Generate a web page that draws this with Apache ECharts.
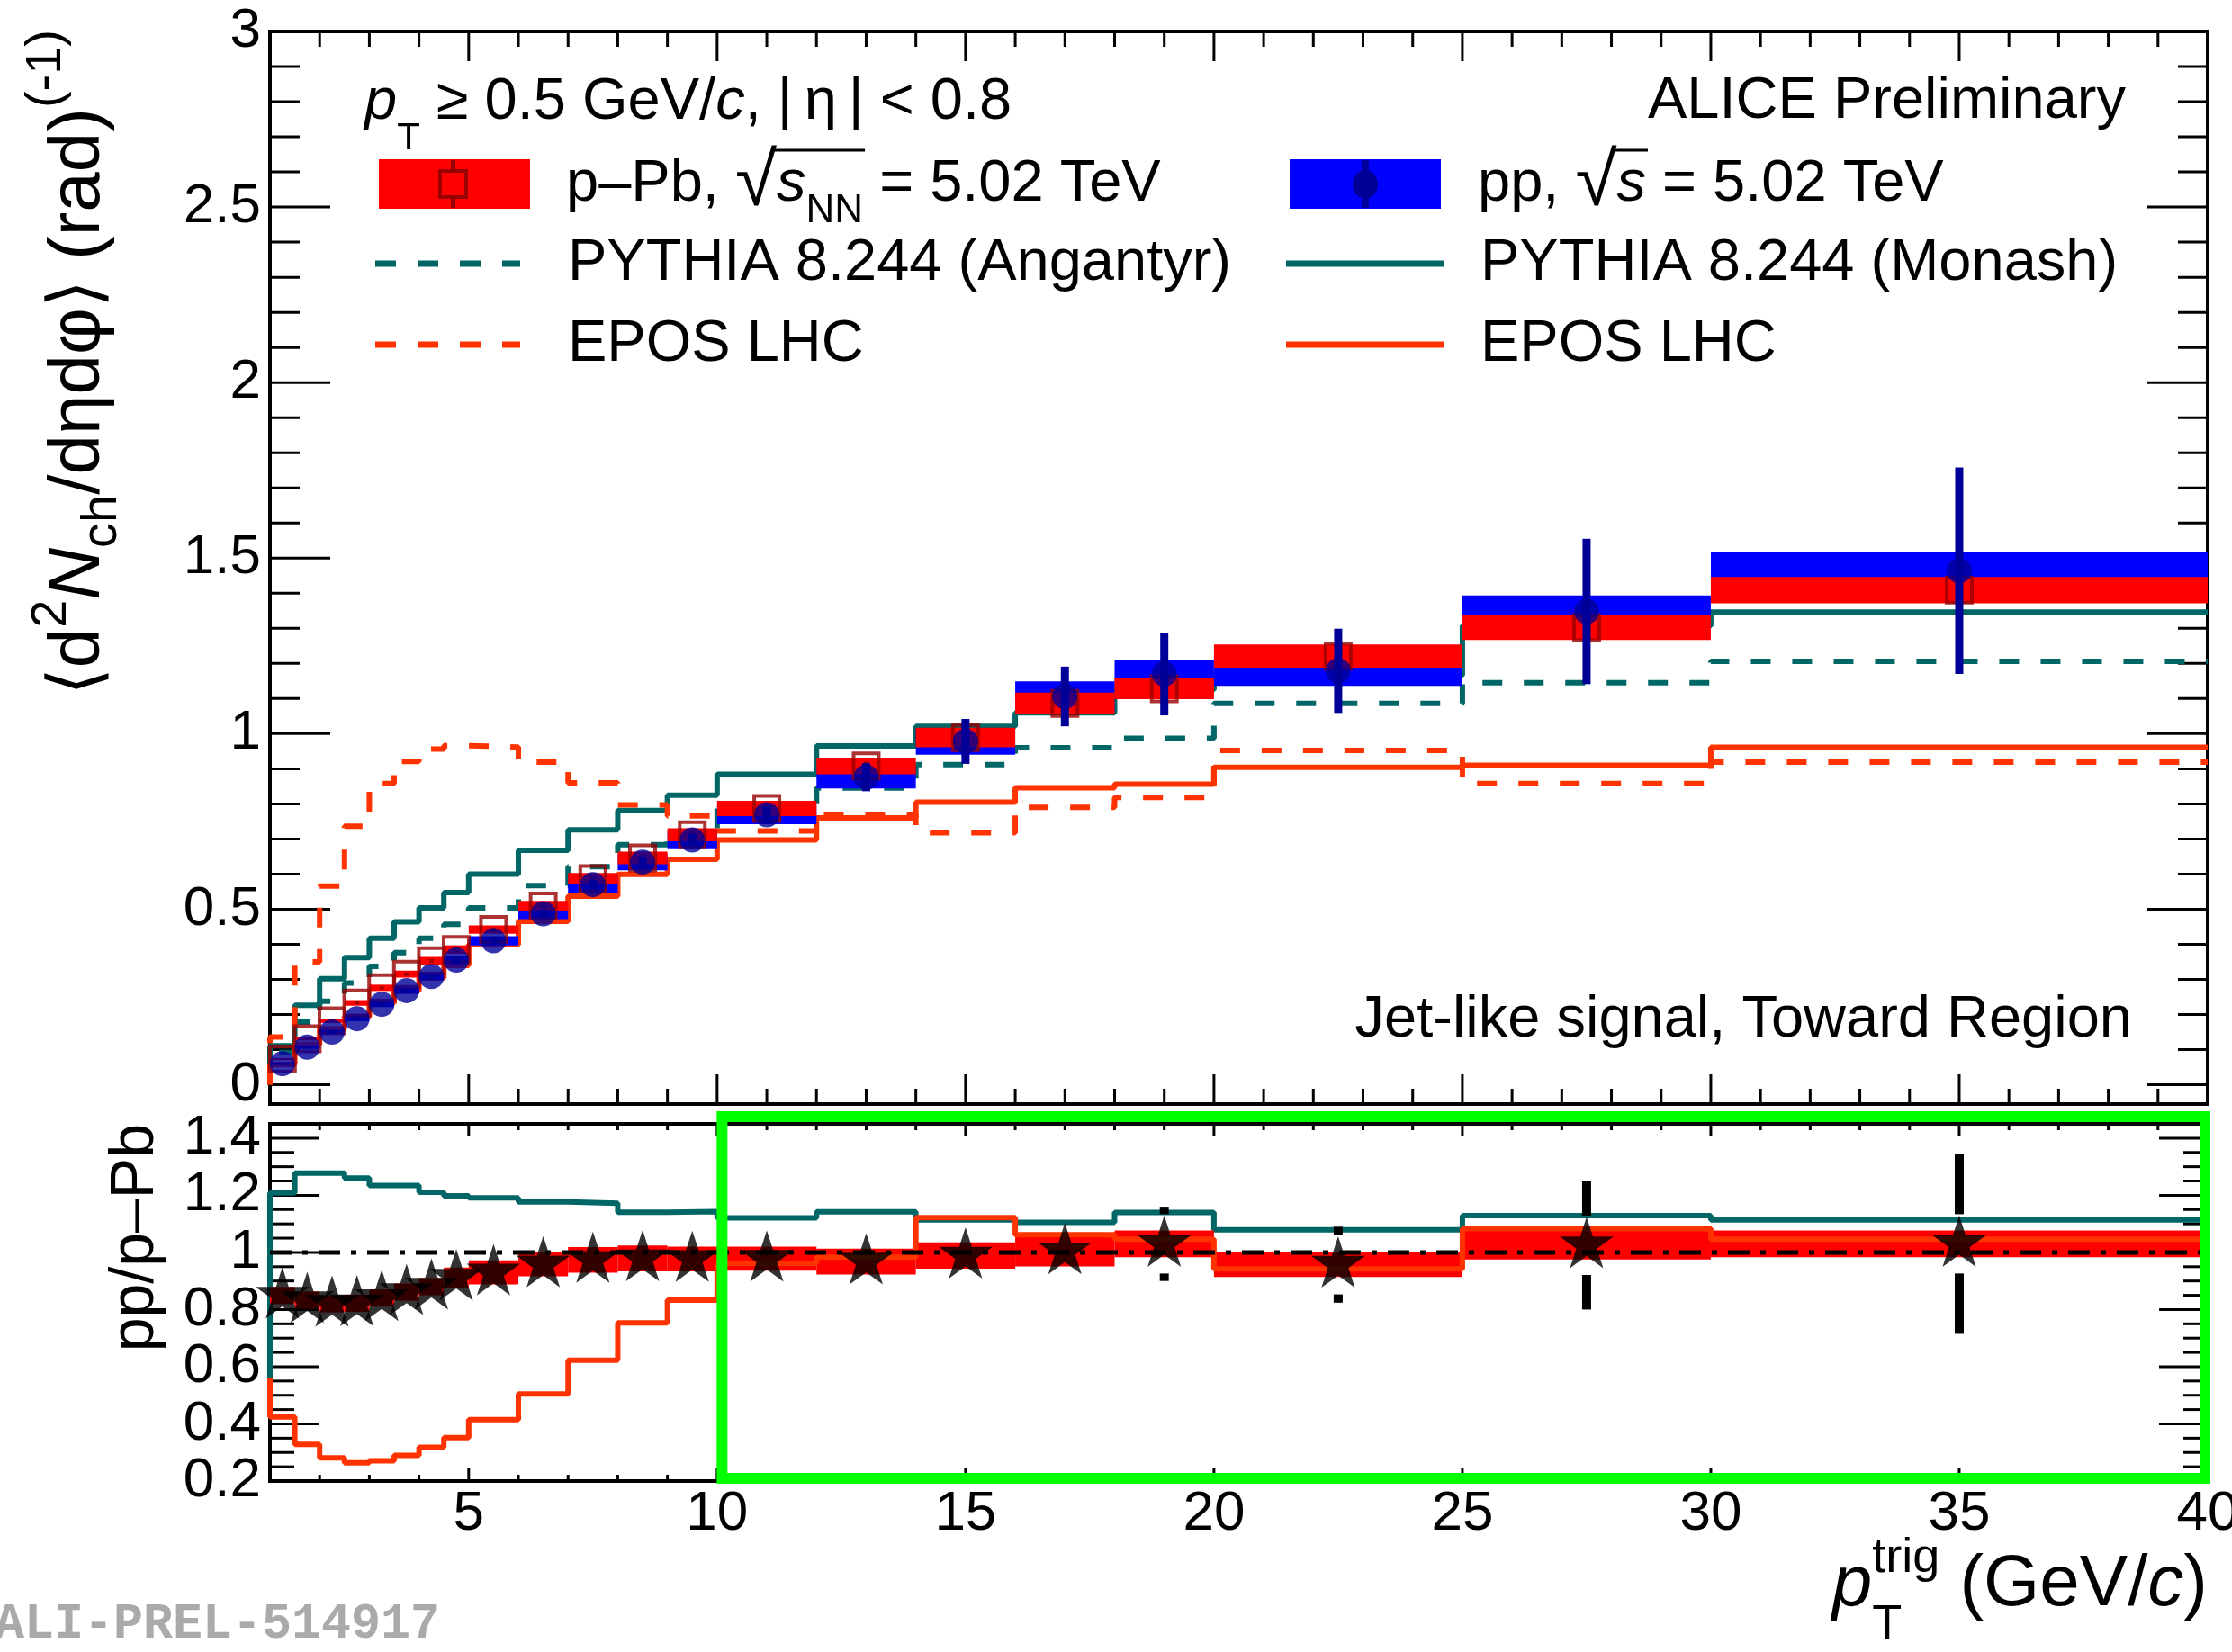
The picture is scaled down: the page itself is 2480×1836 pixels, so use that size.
<!DOCTYPE html>
<html>
<head>
<meta charset="utf-8">
<script src="https://cdn.jsdelivr.net/npm/echarts@6/dist/echarts.min.js"></script>
<style>
  html, body { margin: 0; padding: 0; background: #fff; }
  #chart { width: 2480px; height: 1836px; }
</style>
</head>
<body>
<div id="chart"></div>
<script>
// pT^trig bins (GeV/c)
const binEdges = [1, 1.5, 2, 2.5, 3, 3.5, 4, 4.5, 5, 6, 7, 8, 9, 10, 12, 14, 16, 18, 20, 25, 30, 40];

// pp, sqrt(s) = 5.02 TeV
const ppValue = [0.060, 0.107, 0.150, 0.188, 0.229, 0.268, 0.308, 0.355, 0.410, 0.487, 0.570, 0.634, 0.697, 0.769, 0.876, 0.978, 1.106, 1.170, 1.179, 1.348, 1.464];
const ppStat  = [0.003, 0.004, 0.005, 0.005, 0.006, 0.007, 0.008, 0.009, 0.010, 0.012, 0.014, 0.016, 0.018, 0.025, 0.040, 0.064, 0.085, 0.118, 0.120, 0.207, 0.294];
const ppSyst  = [0.003, 0.005, 0.006, 0.007, 0.008, 0.009, 0.010, 0.012, 0.013, 0.015, 0.023, 0.023, 0.026, 0.027, 0.032, 0.038, 0.043, 0.039, 0.043, 0.046, 0.052];

// p-Pb, sqrt(sNN) = 5.02 TeV
const pPbValue = [0.073, 0.131, 0.182, 0.233, 0.276, 0.315, 0.353, 0.385, 0.442, 0.509, 0.587, 0.646, 0.712, 0.787, 0.908, 0.989, 1.086, 1.128, 1.221, 1.302, 1.409];
const pPbStat  = [0.002, 0.003, 0.003, 0.004, 0.004, 0.005, 0.005, 0.006, 0.006, 0.007, 0.008, 0.009, 0.010, 0.010, 0.012, 0.015, 0.020, 0.025, 0.025, 0.035, 0.045];
const pPbSyst  = [0.003, 0.005, 0.006, 0.008, 0.009, 0.010, 0.011, 0.012, 0.012, 0.0145, 0.016, 0.018, 0.0185, 0.022, 0.024, 0.028, 0.031, 0.030, 0.033, 0.035, 0.0375];

// models
const monashPp    = [0.111, 0.226, 0.302, 0.362, 0.417, 0.464, 0.504, 0.547, 0.600, 0.668, 0.726, 0.781, 0.825, 0.884, 0.965, 1.021, 1.059, 1.125, 1.166, 1.307, 1.346];
const angantyrPPb = [0.092, 0.178, 0.238, 0.290, 0.337, 0.376, 0.417, 0.457, 0.504, 0.567, 0.621, 0.684, 0.722, 0.789, 0.845, 0.912, 0.960, 0.987, 1.086, 1.145, 1.206];
const eposPp      = [0.058, 0.115, 0.159, 0.194, 0.233, 0.267, 0.304, 0.340, 0.399, 0.465, 0.537, 0.599, 0.642, 0.697, 0.760, 0.805, 0.846, 0.856, 0.904, 0.910, 0.961];
const eposPPb     = [0.136, 0.350, 0.566, 0.736, 0.858, 0.921, 0.956, 0.966, 0.962, 0.919, 0.860, 0.797, 0.766, 0.723, 0.770, 0.718, 0.790, 0.818, 0.952, 0.858, 0.919];

// ratio pp / p-Pb
const ratioValue = [0.849, 0.833, 0.820, 0.822, 0.840, 0.861, 0.880, 0.912, 0.930, 0.958, 0.974, 0.979, 0.977, 0.978, 0.968, 0.989, 1.004, 1.030, 0.957, 1.025, 1.030];
const ratioStat  = [0.010, 0.010, 0.010, 0.010, 0.010, 0.012, 0.012, 0.014, 0.014, 0.016, 0.018, 0.020, 0.022, 0.025, 0.035, 0.050, 0.095, 0.130, 0.133, 0.225, 0.315];
const ratioSyst  = [0.030, 0.030, 0.030, 0.030, 0.030, 0.030, 0.030, 0.035, 0.042, 0.042, 0.045, 0.045, 0.043, 0.042, 0.045, 0.046, 0.053, 0.047, 0.043, 0.050, 0.047];
const monashRatio = [1.208, 1.278, 1.278, 1.260, 1.234, 1.234, 1.211, 1.198, 1.191, 1.177, 1.172, 1.141, 1.143, 1.121, 1.142, 1.114, 1.105, 1.140, 1.079, 1.129, 1.114];
const eposRatio   = [0.424, 0.328, 0.281, 0.264, 0.271, 0.290, 0.318, 0.352, 0.415, 0.505, 0.623, 0.753, 0.833, 0.962, 0.983, 1.122, 1.062, 1.046, 0.942, 1.083, 1.046];
const ratioLineStart = 0.56;
const ratioReference = 1;

// axis labels
const xLabels = [5, 10, 15, 20, 25, 30, 35, 40];
const topYLabels = [0, 0.5, 1, 1.5, 2, 2.5, 3];
const ratioYLabels = [0.2, 0.4, 0.6, 0.8, 1, 1.2, 1.4];

const TEAL = '#006666', ORANGE = '#ff3300', RED = '#ff0000', BLUE = '#0000ff';
const NAVY = '#000099', DARKRED = '#990000', GREEN = '#00ff00';
const FONT = '"Liberation Sans", Arial, Helvetica, sans-serif';
const DASH = [22, 24];

const centers = binEdges.slice(0, -1).map((e, i) => (e + binEdges[i + 1]) / 2);

// minor ticks
const xMinor = [];
for (let v = 2; v < 40; v++) if (v % 5) xMinor.push(v);
const topYMinor = [];
for (let k = 1; k < 30; k++) if (k % 5) topYMinor.push(k / 10);
const ratioYMinor = [];
for (let k = 5; k < 29; k++) if (k % 4) ratioYMinor.push(k / 20);

function stepPoints(values, start) {
  const pts = [[binEdges[0], start]];
  values.forEach((v, i) => { pts.push([binEdges[i], v], [binEdges[i + 1], v]); });
  return pts;
}

function stepLine(gi, values, start, color, type, z) {
  return {
    type: 'line', xAxisIndex: gi, yAxisIndex: gi, z: z,
    data: stepPoints(values, start), showSymbol: false, silent: true,
    lineStyle: { color: color, width: 6, type: type, cap: 'butt' }
  };
}

function boxes(gi, values, syst, color, z) {
  return {
    type: 'custom', xAxisIndex: gi, yAxisIndex: gi, z: z, silent: true,
    data: values.map((v, i) => [binEdges[i], binEdges[i + 1], v - syst[i], v + syst[i]]),
    encode: { x: [0, 1], y: [2, 3] },
    renderItem: (params, api) => {
      const a = api.coord([api.value(0), api.value(3)]);
      const b = api.coord([api.value(1), api.value(2)]);
      return { type: 'rect', shape: { x: a[0], y: a[1], width: b[0] - a[0], height: b[1] - a[1] }, style: { fill: color } };
    }
  };
}

function errorBars(gi, values, err, color, width, gap, z) {
  return {
    type: 'custom', xAxisIndex: gi, yAxisIndex: gi, z: z, silent: true,
    data: values.map((v, i) => [centers[i], v - err[i], v + err[i], v]),
    encode: { x: 0, y: [1, 2] },
    renderItem: (params, api) => {
      const lo = api.coord([api.value(0), api.value(1)]);
      const hi = api.coord([api.value(0), api.value(2)]);
      const c = api.coord([api.value(0), api.value(3)]);
      const st = { stroke: color, lineWidth: width };
      const ch = [];
      if (hi[1] < c[1] - gap) ch.push({ type: 'line', shape: { x1: c[0], y1: c[1] - gap, x2: c[0], y2: hi[1] }, style: st });
      if (lo[1] > c[1] + gap) ch.push({ type: 'line', shape: { x1: c[0], y1: c[1] + gap, x2: c[0], y2: lo[1] }, style: st });
      return { type: 'group', children: ch };
    }
  };
}

function frameTicks(gi, yMajor, yMinor, len) {
  return {
    type: 'custom', xAxisIndex: gi, yAxisIndex: gi, z: 1, silent: true,
    data: [[20, 1]],
    renderItem: (params, api) => {
      const cs = params.coordSys;
      const L = cs.x, R = cs.x + cs.width, T = cs.y, B = cs.y + cs.height;
      const st = { stroke: '#000', lineWidth: 3 };
      const ch = [];
      const xt = (v, l) => {
        const px = api.coord([v, 1])[0];
        ch.push({ type: 'line', shape: { x1: px, y1: B, x2: px, y2: B - l }, style: st });
        ch.push({ type: 'line', shape: { x1: px, y1: T, x2: px, y2: T + l }, style: st });
      };
      const yt = (v, l) => {
        const py = api.coord([1, v])[1];
        ch.push({ type: 'line', shape: { x1: L, y1: py, x2: L + l, y2: py }, style: st });
        ch.push({ type: 'line', shape: { x1: R, y1: py, x2: R - l, y2: py }, style: st });
      };
      xLabels.forEach(v => xt(v, len.xMaj));
      xMinor.forEach(v => xt(v, len.xMin));
      yMajor.forEach(v => yt(v, len.yMaj));
      yMinor.forEach(v => yt(v, len.yMin));
      return { type: 'group', children: ch };
    }
  };
}

function starPath() {
  const pts = [];
  for (let k = 0; k < 10; k++) {
    const r = k % 2 ? 38.2 : 100;
    const a = (-90 + 36 * k) * Math.PI / 180;
    pts.push((r * Math.cos(a)).toFixed(2) + ' ' + (r * Math.sin(a)).toFixed(2));
  }
  return 'path://M' + pts.join(' L') + ' Z';
}

const axisLabelStyle = { fontSize: 62, fontFamily: FONT, color: '#000' };

const chart = echarts.init(document.getElementById('chart'));
chart.setOption({
  animation: false,
  backgroundColor: '#fff',
  grid: [
    { left: 300, right: 27, top: 35, height: 1192, show: true, borderColor: '#000', borderWidth: 4, backgroundColor: 'transparent', containLabel: false, outerBoundsMode: 'none' },
    { left: 300, right: 27, top: 1249, height: 397, show: true, borderColor: '#000', borderWidth: 4, backgroundColor: 'transparent', containLabel: false, outerBoundsMode: 'none' }
  ],
  xAxis: [
    { gridIndex: 0, type: 'value', min: 1, max: 40, axisLine: { show: false }, axisTick: { show: false }, axisLabel: { show: false }, splitLine: { show: false } },
    { gridIndex: 1, type: 'value', min: 1, max: 40, axisLine: { show: false }, axisTick: { show: false }, splitLine: { show: false },
      axisLabel: Object.assign({ customValues: xLabels, margin: 6 }, axisLabelStyle) }
  ],
  yAxis: [
    { gridIndex: 0, type: 'value', min: -0.055, max: 3, axisLine: { show: false }, axisTick: { show: false }, splitLine: { show: false },
      axisLabel: Object.assign({ customValues: topYLabels, margin: 10 }, axisLabelStyle) },
    { gridIndex: 1, type: 'value', min: 0.2, max: 1.45, axisLine: { show: false }, axisTick: { show: false }, splitLine: { show: false },
      axisLabel: Object.assign({ customValues: ratioYLabels, margin: 10 }, axisLabelStyle) }
  ],
  series: [
    frameTicks(0, topYLabels, topYMinor, { xMaj: 33, xMin: 17, yMaj: 67, yMin: 33 }),
    stepLine(0, monashPp, 0, TEAL, 'solid', 2),
    stepLine(0, angantyrPPb, 0, TEAL, DASH, 2),
    stepLine(0, eposPp, 0, ORANGE, 'solid', 2),
    stepLine(0, eposPPb, 0, ORANGE, DASH, 2),
    boxes(0, ppValue, ppSyst, BLUE, 3),
    boxes(0, pPbValue, pPbSyst, RED, 3),
    errorBars(0, pPbValue, pPbStat, DARKRED, 5, 0, 4),
    { type: 'scatter', xAxisIndex: 0, yAxisIndex: 0, z: 4, silent: true, symbol: 'rect', symbolSize: 28,
      data: pPbValue.map((v, i) => [centers[i], v]),
      itemStyle: { color: 'rgba(0,0,0,0)', borderColor: DARKRED, borderWidth: 4 } },
    errorBars(0, ppValue, ppStat, NAVY, 9, 0, 5),
    { type: 'scatter', xAxisIndex: 0, yAxisIndex: 0, z: 5, silent: true, symbol: 'circle', symbolSize: 28,
      data: ppValue.map((v, i) => [centers[i], v]), itemStyle: { color: NAVY } },

    frameTicks(1, ratioYLabels, ratioYMinor, { xMaj: 14, xMin: 7, yMaj: 54, yMin: 27 }),
    stepLine(1, monashRatio, ratioLineStart, TEAL, 'solid', 2),
    boxes(1, ratioValue, ratioSyst, RED, 3),
    stepLine(1, eposRatio, ratioLineStart, ORANGE, 'solid', 4),
    { type: 'line', xAxisIndex: 1, yAxisIndex: 1, z: 5, showSymbol: false, silent: true,
      data: [[binEdges[0], ratioReference], [binEdges[binEdges.length - 1], ratioReference]],
      lineStyle: { color: '#000', width: 5, type: [24, 12, 6, 12] } },
    errorBars(1, ratioValue, ratioStat, '#000', 10, 33, 6),
    { type: 'scatter', xAxisIndex: 1, yAxisIndex: 1, z: 7, silent: true, symbol: starPath(), symbolSize: 60,
      symbolKeepAspect: true, symbolOffset: [0, -3],
      data: ratioValue.map((v, i) => [centers[i], v]), itemStyle: { color: '#000' } }
  ]
});

// ---- text and legend (graphic) ----
const measureCtx = document.createElement('canvas').getContext('2d');
function measure(t, size, italic) {
  measureCtx.font = (italic ? 'italic ' : '') + 'normal ' + size + 'px ' + FONT;
  return measureCtx.measureText(t).width;
}

// barY is relative to the run's centre line
function textRun(pieces, o) {
  const base = o.size;
  const widths = pieces.map(p => Math.max.apply(null, (p.stack || [p]).map(q => measure(q.t, q.size || base, q.it))));
  const total = widths.reduce((a, b) => a + b, 0);
  let cur = o.align === 'right' ? -total : 0;
  const children = [];
  let barFrom = null, barTo = null;
  pieces.forEach((p, i) => {
    (p.stack || [p]).forEach(q => {
      const sz = q.size || base;
      children.push({
        type: 'text', x: cur, y: q.dy || 0, z: 50,
        style: { text: q.t, fontSize: sz, fontFamily: FONT, fontStyle: q.it ? 'italic' : 'normal', fill: '#000',
                 align: 'left', verticalAlign: 'middle', textAlign: 'left', textVerticalAlign: 'middle' }
      });
      if (q.bar) { if (barFrom === null) barFrom = cur; barTo = cur + measure(q.t, sz, q.it); }
    });
    cur += widths[i];
  });
  if (barFrom !== null) {
    children.push({ type: 'line', z: 50, shape: { x1: barFrom - 3, y1: o.barY, x2: barTo + 2, y2: o.barY }, style: { stroke: '#000', lineWidth: 3 } });
  }
  return { type: 'group', x: o.x, y: o.y, rotation: o.rotation || 0, children: children };
}

const graphics = [];
// header
graphics.push(textRun([{ t: 'p', it: true }, { t: 'T', size: 42, dy: 40 }, { t: ' \u2265 0.5 GeV/' }, { t: 'c', it: true },
  { t: ', |\u2009\u03b7\u2009| < 0.8' }], { x: 405, y: 114, size: 65 }));
graphics.push(textRun([{ t: 'ALICE Preliminary' }], { x: 2362, y: 113, size: 65, align: 'right' }));

// legend left column
graphics.push({ type: 'rect', shape: { x: 421, y: 177, width: 168, height: 55 }, style: { fill: RED }, z: 40 });
graphics.push({ type: 'line', shape: { x1: 503.5, y1: 178, x2: 503.5, y2: 190 }, style: { stroke: DARKRED, lineWidth: 5 }, z: 41 });
graphics.push({ type: 'line', shape: { x1: 503.5, y1: 219, x2: 503.5, y2: 231 }, style: { stroke: DARKRED, lineWidth: 5 }, z: 41 });
graphics.push({ type: 'rect', shape: { x: 489, y: 190, width: 29, height: 29 }, style: { fill: 'none', stroke: DARKRED, lineWidth: 4 }, z: 41 });
graphics.push(textRun([{ t: 'p\u2013Pb, ' }, { t: '\u221a', size: 84 }, { t: 's', it: true, bar: true }, { t: 'NN', size: 44, dy: 30, bar: true }, { t: ' = 5.02 TeV' }],
  { x: 629, y: 205, size: 65, barY: -38 }));
graphics.push({ type: 'line', shape: { x1: 417, y1: 293, x2: 578, y2: 293 }, style: { stroke: TEAL, lineWidth: 7, lineDash: [23, 24] }, z: 40 });
graphics.push(textRun([{ t: 'PYTHIA 8.244 (Angantyr)' }], { x: 631, y: 293, size: 65 }));
graphics.push({ type: 'line', shape: { x1: 417, y1: 383, x2: 578, y2: 383 }, style: { stroke: ORANGE, lineWidth: 7, lineDash: [23, 24] }, z: 40 });
graphics.push(textRun([{ t: 'EPOS LHC' }], { x: 631, y: 383, size: 65 }));

// legend right column
graphics.push({ type: 'rect', shape: { x: 1433, y: 177, width: 168, height: 55 }, style: { fill: BLUE }, z: 40 });
graphics.push({ type: 'line', shape: { x1: 1517, y1: 178, x2: 1517, y2: 231 }, style: { stroke: NAVY, lineWidth: 8 }, z: 41 });
graphics.push({ type: 'ellipse', shape: { cx: 1517, cy: 205, rx: 14, ry: 16 }, style: { fill: NAVY }, z: 42 });
graphics.push(textRun([{ t: 'pp, ' }, { t: '\u221a', size: 84 }, { t: 's', it: true, bar: true }, { t: ' = 5.02 TeV' }],
  { x: 1642, y: 205, size: 65, barY: -38 }));
graphics.push({ type: 'line', shape: { x1: 1429, y1: 293, x2: 1604, y2: 293 }, style: { stroke: TEAL, lineWidth: 7 }, z: 40 });
graphics.push(textRun([{ t: 'PYTHIA 8.244 (Monash)' }], { x: 1645, y: 293, size: 65 }));
graphics.push({ type: 'line', shape: { x1: 1429, y1: 383, x2: 1604, y2: 383 }, style: { stroke: ORANGE, lineWidth: 7 }, z: 40 });
graphics.push(textRun([{ t: 'EPOS LHC' }], { x: 1645, y: 383, size: 65 }));

// region label
graphics.push(textRun([{ t: 'Jet-like signal, Toward Region' }], { x: 2369, y: 1134, size: 65, align: 'right' }));

// axis titles
graphics.push(textRun([
  { t: '\u27e8d' }, { t: '2', size: 56, dy: -30 }, { t: 'N', it: true }, { t: 'ch', size: 56, dy: 26 },
  { t: '/d\u03b7d\u03c6\u27e9 (rad)' }, { t: '(-1)', size: 56, dy: -36 }
], { x: 88, y: 33, size: 80, align: 'right', rotation: Math.PI / 2 }));
graphics.push(textRun([{ t: 'pp/p\u2013Pb' }], { x: 151, y: 1249, size: 68, align: 'right', rotation: Math.PI / 2 }));
graphics.push(textRun([
  { t: 'p', it: true, size: 80 }, { stack: [{ t: 'trig', size: 54, dy: -30 }, { t: 'T', size: 54, dy: 44 }] },
  { t: ' (GeV/' }, { t: 'c', it: true }, { t: ')' }
], { x: 2453, y: 1762, size: 80, align: 'right' }));

// preliminary id
graphics.push({ type: 'text', x: -6, y: 1806, z: 50,
  style: { text: 'ALI-PREL-514917', fontSize: 55, fontWeight: 'bold', fontFamily: '"Liberation Mono", "DejaVu Sans Mono", monospace',
           fill: '#aaaaaa', align: 'left', verticalAlign: 'middle', textAlign: 'left', textVerticalAlign: 'middle' } });

// highlighted range in the ratio panel
const pA = chart.convertToPixel({ gridIndex: 1 }, [10, 1.45]);
const pB = chart.convertToPixel({ gridIndex: 1 }, [40, 0.2]);
graphics.push({ type: 'rect', z: 100,
  shape: { x: pA[0] + 5.5, y: pA[1] - 8, width: (pB[0] - 3) - (pA[0] + 5.5), height: (pB[1] - 3) - (pA[1] - 8) },
  style: { fill: 'none', stroke: GREEN, lineWidth: 12 } });

chart.setOption({ graphic: graphics });
</script>
</body>
</html>
